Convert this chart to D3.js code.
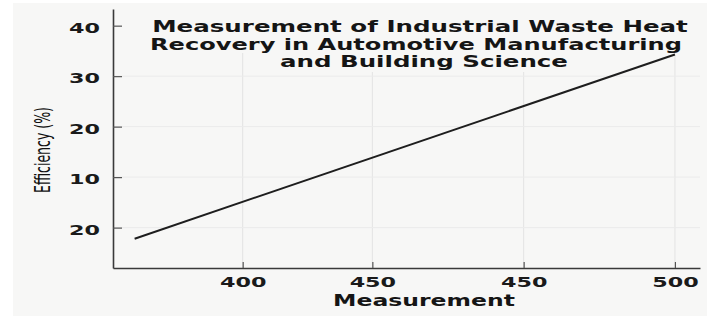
<!DOCTYPE html>
<html>
<head>
<meta charset="utf-8">
<script src="https://cdn.jsdelivr.net/npm/d3@7"></script>
<style>
  body { margin: 0; background: #fff; }
  svg { display: block; }
</style>
</head>
<body>
<script>
// data
var lineX = [375, 500];
var lineY = [-2.2, 34.3];

var xTickValues = [400, 430, 465, 500];
var xTickLabels = ['400', '450', '450', '500'];
var yTickValues = [0, 10, 20, 30, 40];
var yTickLabels = ['20', '10', '20', '30', '40'];

var titleLines = ['Measurement of Industrial Waste Heat',
                  'Recovery in Automotive Manufacturing',
                  'and Building Science'];

var W = 713, H = 318;
var boldFont = '"DejaVu Sans", "Liberation Sans", sans-serif';

var svg = d3.select('body').append('svg')
    .attr('width', W)
    .attr('height', H);

// stretch a text sideways so it covers a given width (the original font is an extended one)
function stretch(sel, width, tx, ty, rot) {
    var n = sel.node().getComputedTextLength();
    var s = width / n;
    sel.attr('x', 0).attr('y', 0)
        .attr('transform', 'translate(' + tx + ',' + ty + ')' + (rot ? ' rotate(' + rot + ')' : '') + ' scale(' + s + ',1)');
}

// panel background
svg.append('rect')
    .attr('x', 13).attr('y', 3)
    .attr('width', 694).attr('height', 313)
    .attr('fill', '#f7f7f6');

var x = d3.scaleLinear().domain([370, 505.8]).range([113, 700]);
var y = d3.scaleLinear().domain([-8, 43.3]).range([268, 9]);

// grid
svg.append('g').selectAll('line.gx')
    .data(xTickValues)
    .enter().append('line')
    .attr('x1', function(d) { return x(d); })
    .attr('x2', function(d) { return x(d); })
    .attr('y1', 53)
    .attr('y2', y(-8))
    .attr('stroke', '#e3e3e3')
    .attr('stroke-width', 1);

svg.append('g').selectAll('line.gy')
    .data(yTickValues.slice(0, 4))
    .enter().append('line')
    .attr('x1', x(370))
    .attr('x2', x(505.8))
    .attr('y1', function(d) { return y(d); })
    .attr('y2', function(d) { return y(d); })
    .attr('stroke', '#ebebeb')
    .attr('stroke-width', 1);

// title (background patch hides grid behind last line)
svg.append('rect')
    .attr('x', 276).attr('y', 50)
    .attr('width', 296).attr('height', 22)
    .attr('fill', '#f7f7f6');

var titleCx = [420, 416, 424];
var titleBase = [32, 49.5, 67];
var titleLen = [536, 532, 288];

svg.append('g').selectAll('text')
    .data(titleLines)
    .enter().append('text')
    .attr('text-anchor', 'middle')
    .style('font-family', boldFont)
    .style('font-weight', 'bold')
    .style('font-size', '15.5px')
    .attr('fill', '#151515')
    .text(function(d) { return d; })
    .each(function(d, i) {
        stretch(d3.select(this), titleLen[i], titleCx[i], titleBase[i]);
    });

// axes
var yAxis = d3.axisLeft(y)
    .tickValues(yTickValues)
    .tickFormat(function(d, i) { return yTickLabels[i]; })
    .tickSizeInner(-9)
    .tickSizeOuter(0)
    .tickPadding(13);

var gy = svg.append('g')
    .attr('transform', 'translate(' + x(370) + ',0)')
    .call(yAxis);

var xAxis = d3.axisBottom(x)
    .tickValues(xTickValues)
    .tickFormat(function(d, i) { return xTickLabels[i]; })
    .tickSizeInner(-6)
    .tickSizeOuter(0)
    .tickPadding(9);

var gx = svg.append('g')
    .attr('transform', 'translate(0,' + y(-8) + ')')
    .call(xAxis);

[gx, gy].forEach(function(g) {
    g.select('.domain').attr('stroke', '#3a3a3a').attr('stroke-width', 1.6);
    g.selectAll('.tick line').attr('stroke', '#555').attr('stroke-width', 1.2);
    g.selectAll('.tick text')
        .attr('fill', '#1a1a1a')
        .style('font-family', boldFont)
        .style('font-weight', 'bold')
        .style('font-size', '14.5px');
});
gy.selectAll('.tick text').each(function() {
    var t = d3.select(this);
    stretch(t, this.textContent.length * 15.5, -13, 0);
    t.attr('dy', '0.45em');
});
gx.selectAll('.tick text').each(function() {
    var t = d3.select(this);
    stretch(t, this.textContent.length * 15.5, 0, 9);
    t.attr('dy', '0.71em');
});

// axis titles
var xTitle = svg.append('text')
    .attr('text-anchor', 'middle')
    .style('font-family', boldFont)
    .style('font-weight', 'bold')
    .style('font-size', '15.5px')
    .attr('fill', '#151515')
    .text('Measurement');
stretch(xTitle, 182, 424, 306);

var yTitle = svg.append('text')
    .attr('text-anchor', 'middle')
    .style('font-family', '"Liberation Sans Narrow", "DejaVu Sans Condensed", sans-serif')
    .style('font-size', '21px')
    .attr('fill', '#111')
    .text('Efficiency (%)');
stretch(yTitle, 86, 50, 150, -90);

// the line
var pts = lineX.map(function(d, i) { return [d, lineY[i]]; });
var line = d3.line()
    .x(function(d) { return x(d[0]); })
    .y(function(d) { return y(d[1]); });

svg.append('path')
    .datum(pts)
    .attr('d', line)
    .attr('fill', 'none')
    .attr('stroke', '#1e1e1e')
    .attr('stroke-width', 2);
</script>
</body>
</html>
